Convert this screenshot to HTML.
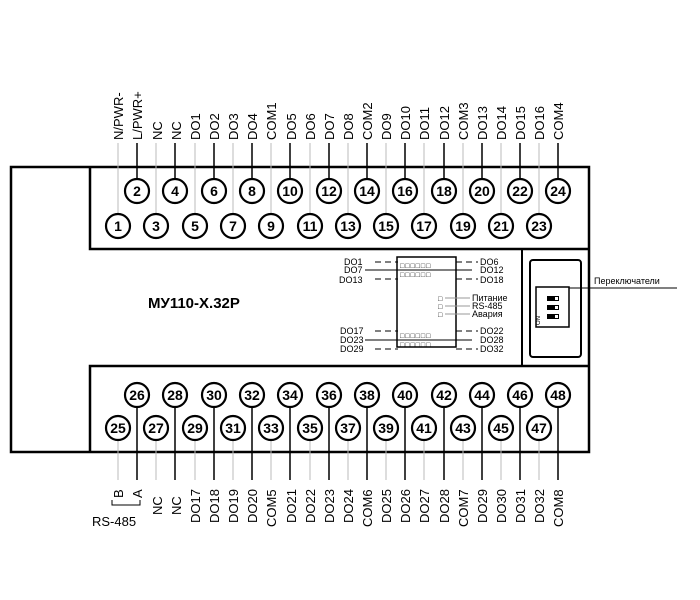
<!DOCTYPE html>
<html><head><meta charset="utf-8"><style>
body{margin:0;background:#fff}
svg{display:block}
text{font-family:"Liberation Sans",sans-serif}
.n{font-size:14px;font-weight:bold;text-anchor:middle}
</style></head><body>
<svg width="700" height="600" viewBox="0 0 700 600" xmlns="http://www.w3.org/2000/svg">
<defs><circle id="c" r="12" fill="#fff" stroke="#000" stroke-width="2.2"/></defs>
<g fill="none" stroke="#000" stroke-width="2.5">
<rect x="11" y="167" width="578" height="285"/>
<path d="M90 167 V249 H589"/>
<path d="M90 452 V366 H589"/>
</g>
<line x1="522" y1="249" x2="522" y2="366" stroke="#000" stroke-width="2"/>
<rect x="530" y="260" width="51" height="97" rx="3" fill="none" stroke="#000" stroke-width="2"/>
<rect x="536" y="287" width="33" height="40" fill="none" stroke="#000" stroke-width="1.5"/>
<g fill="#000"><rect x="547" y="296" width="12" height="5"/><rect x="547" y="305" width="12" height="5"/><rect x="547" y="314" width="12" height="5"/></g>
<g fill="#fff"><rect x="555" y="297" width="3" height="3"/><rect x="555" y="306" width="3" height="3"/><rect x="555" y="315" width="3" height="3"/></g>
<text x="540" y="325" font-size="6" transform="rotate(-90 540 325)">ON</text>
<line x1="569" y1="288" x2="677" y2="288" stroke="#000" stroke-width="1"/>
<text x="594" y="284" font-size="9">Переключатели</text>
<text x="148" y="308" font-size="15" font-weight="bold">МУ110-Х.32Р</text>
<rect x="397" y="257" width="59" height="90" fill="none" stroke="#000" stroke-width="1.5"/>
<g stroke="#000" stroke-width="1">
<line x1="375" y1="262" x2="398" y2="262" stroke-dasharray="6 4"/><line x1="365" y1="270" x2="472" y2="270"/><line x1="375" y1="279" x2="398" y2="279" stroke-dasharray="6 4"/>
<line x1="456" y1="262" x2="478" y2="262" stroke-dasharray="6 4"/><line x1="456" y1="279" x2="478" y2="279" stroke-dasharray="6 4"/>
<line x1="375" y1="331" x2="398" y2="331" stroke-dasharray="6 4"/><line x1="365" y1="340" x2="472" y2="340"/><line x1="375" y1="349" x2="398" y2="349" stroke-dasharray="6 4"/>
<line x1="456" y1="331" x2="478" y2="331" stroke-dasharray="6 4"/><line x1="456" y1="349" x2="478" y2="349" stroke-dasharray="6 4"/>
<line x1="445" y1="298" x2="470" y2="298" stroke="#999"/><line x1="445" y1="306" x2="470" y2="306" stroke="#999"/><line x1="445" y1="314" x2="470" y2="314" stroke="#999"/>
</g>
<g font-size="9" fill="#000">
<text x="344" y="265">DO1</text><text x="344" y="273">DO7</text><text x="339" y="283">DO13</text>
<text x="480" y="265">DO6</text><text x="480" y="273">DO12</text><text x="480" y="283">DO18</text>
<text x="340" y="334">DO17</text><text x="340" y="343">DO23</text><text x="340" y="352">DO29</text>
<text x="480" y="334">DO22</text><text x="480" y="343">DO28</text><text x="480" y="352">DO32</text>
<text x="472" y="301">Питание</text><text x="472" y="309">RS-485</text><text x="472" y="317">Авария</text>
<text x="400" y="268" font-size="7" letter-spacing="1">□□□□□□</text>
<text x="400" y="277" font-size="7" letter-spacing="1">□□□□□□</text>
<text x="400" y="338" font-size="7" letter-spacing="1">□□□□□□</text>
<text x="400" y="347" font-size="7" letter-spacing="1">□□□□□□</text>
<text x="438" y="301" font-size="7">□</text><text x="438" y="309" font-size="7">□</text><text x="438" y="317" font-size="7">□</text>
</g>
<!-- leader lines -->
<g stroke="#bbb" stroke-width="1">
<path d="M118 143V215 M156 143V215 M195 143V215 M233 143V215 M271 143V215 M310 143V215 M348 143V215 M386 143V215 M424 143V215 M463 143V215 M501 143V215 M539 143V215"/>
<path d="M118 416V480 M156 416V480 M195 416V480 M233 416V480 M271 416V480 M310 416V480 M348 416V480 M386 416V480 M424 416V480 M463 416V480 M501 416V480 M539 416V480"/>
</g>
<g stroke="#000" stroke-width="1.5">
<path d="M137 143V180 M175 143V180 M214 143V180 M252 143V180 M290 143V180 M329 143V180 M367 143V180 M405 143V180 M444 143V180 M482 143V180 M520 143V180 M558 143V180"/>
<path d="M137 383V480 M175 383V480 M214 383V480 M252 383V480 M290 383V480 M329 383V480 M367 383V480 M405 383V480 M444 383V480 M482 383V480 M520 383V480 M558 383V480"/>
</g>
<!-- circles -->
<g>
<use href="#c" x="137" y="191"/><use href="#c" x="175" y="191"/><use href="#c" x="214" y="191"/><use href="#c" x="252" y="191"/><use href="#c" x="290" y="191"/><use href="#c" x="329" y="191"/><use href="#c" x="367" y="191"/><use href="#c" x="405" y="191"/><use href="#c" x="444" y="191"/><use href="#c" x="482" y="191"/><use href="#c" x="520" y="191"/><use href="#c" x="558" y="191"/>
<use href="#c" x="118" y="226"/><use href="#c" x="156" y="226"/><use href="#c" x="195" y="226"/><use href="#c" x="233" y="226"/><use href="#c" x="271" y="226"/><use href="#c" x="310" y="226"/><use href="#c" x="348" y="226"/><use href="#c" x="386" y="226"/><use href="#c" x="424" y="226"/><use href="#c" x="463" y="226"/><use href="#c" x="501" y="226"/><use href="#c" x="539" y="226"/>
<use href="#c" x="137" y="395"/><use href="#c" x="175" y="395"/><use href="#c" x="214" y="395"/><use href="#c" x="252" y="395"/><use href="#c" x="290" y="395"/><use href="#c" x="329" y="395"/><use href="#c" x="367" y="395"/><use href="#c" x="405" y="395"/><use href="#c" x="444" y="395"/><use href="#c" x="482" y="395"/><use href="#c" x="520" y="395"/><use href="#c" x="558" y="395"/>
<use href="#c" x="118" y="428"/><use href="#c" x="156" y="428"/><use href="#c" x="195" y="428"/><use href="#c" x="233" y="428"/><use href="#c" x="271" y="428"/><use href="#c" x="310" y="428"/><use href="#c" x="348" y="428"/><use href="#c" x="386" y="428"/><use href="#c" x="424" y="428"/><use href="#c" x="463" y="428"/><use href="#c" x="501" y="428"/><use href="#c" x="539" y="428"/>
</g>
<g class="n">
<text class="n" x="137" y="196">2</text><text class="n" x="175" y="196">4</text><text class="n" x="214" y="196">6</text><text class="n" x="252" y="196">8</text><text class="n" x="290" y="196">10</text><text class="n" x="329" y="196">12</text><text class="n" x="367" y="196">14</text><text class="n" x="405" y="196">16</text><text class="n" x="444" y="196">18</text><text class="n" x="482" y="196">20</text><text class="n" x="520" y="196">22</text><text class="n" x="558" y="196">24</text>
<text class="n" x="118" y="231">1</text><text class="n" x="156" y="231">3</text><text class="n" x="195" y="231">5</text><text class="n" x="233" y="231">7</text><text class="n" x="271" y="231">9</text><text class="n" x="310" y="231">11</text><text class="n" x="348" y="231">13</text><text class="n" x="386" y="231">15</text><text class="n" x="424" y="231">17</text><text class="n" x="463" y="231">19</text><text class="n" x="501" y="231">21</text><text class="n" x="539" y="231">23</text>
<text class="n" x="137" y="400">26</text><text class="n" x="175" y="400">28</text><text class="n" x="214" y="400">30</text><text class="n" x="252" y="400">32</text><text class="n" x="290" y="400">34</text><text class="n" x="329" y="400">36</text><text class="n" x="367" y="400">38</text><text class="n" x="405" y="400">40</text><text class="n" x="444" y="400">42</text><text class="n" x="482" y="400">44</text><text class="n" x="520" y="400">46</text><text class="n" x="558" y="400">48</text>
<text class="n" x="118" y="433">25</text><text class="n" x="156" y="433">27</text><text class="n" x="195" y="433">29</text><text class="n" x="233" y="433">31</text><text class="n" x="271" y="433">33</text><text class="n" x="310" y="433">35</text><text class="n" x="348" y="433">37</text><text class="n" x="386" y="433">39</text><text class="n" x="424" y="433">41</text><text class="n" x="463" y="433">43</text><text class="n" x="501" y="433">45</text><text class="n" x="539" y="433">47</text>
</g>
<g font-size="13" fill="#000">
<text transform="translate(123,140) rotate(-90)">N/PWR-</text>
<text transform="translate(142,140) rotate(-90)">L/PWR+</text>
<text transform="translate(162,140) rotate(-90)">NC</text>
<text transform="translate(181,140) rotate(-90)">NC</text>
<text transform="translate(200,140) rotate(-90)">DO1</text>
<text transform="translate(219,140) rotate(-90)">DO2</text>
<text transform="translate(238,140) rotate(-90)">DO3</text>
<text transform="translate(257,140) rotate(-90)">DO4</text>
<text transform="translate(276,140) rotate(-90)">COM1</text>
<text transform="translate(296,140) rotate(-90)">DO5</text>
<text transform="translate(315,140) rotate(-90)">DO6</text>
<text transform="translate(334,140) rotate(-90)">DO7</text>
<text transform="translate(353,140) rotate(-90)">DO8</text>
<text transform="translate(372,140) rotate(-90)">COM2</text>
<text transform="translate(391,140) rotate(-90)">DO9</text>
<text transform="translate(410,140) rotate(-90)">DO10</text>
<text transform="translate(429,140) rotate(-90)">DO11</text>
<text transform="translate(449,140) rotate(-90)">DO12</text>
<text transform="translate(468,140) rotate(-90)">COM3</text>
<text transform="translate(487,140) rotate(-90)">DO13</text>
<text transform="translate(506,140) rotate(-90)">DO14</text>
<text transform="translate(525,140) rotate(-90)">DO15</text>
<text transform="translate(544,140) rotate(-90)">DO16</text>
<text transform="translate(563,140) rotate(-90)">COM4</text>
<text transform="translate(123,498) rotate(-90)">B</text>
<text transform="translate(142,498) rotate(-90)">A</text>
<text transform="translate(162,515) rotate(-90)">NC</text>
<text transform="translate(181,515) rotate(-90)">NC</text>
<text transform="translate(200,523) rotate(-90)">DO17</text>
<text transform="translate(219,523) rotate(-90)">DO18</text>
<text transform="translate(238,523) rotate(-90)">DO19</text>
<text transform="translate(257,523) rotate(-90)">DO20</text>
<text transform="translate(276,527) rotate(-90)">COM5</text>
<text transform="translate(296,523) rotate(-90)">DO21</text>
<text transform="translate(315,523) rotate(-90)">DO22</text>
<text transform="translate(334,523) rotate(-90)">DO23</text>
<text transform="translate(353,523) rotate(-90)">DO24</text>
<text transform="translate(372,527) rotate(-90)">COM6</text>
<text transform="translate(391,523) rotate(-90)">DO25</text>
<text transform="translate(410,523) rotate(-90)">DO26</text>
<text transform="translate(429,523) rotate(-90)">DO27</text>
<text transform="translate(449,523) rotate(-90)">DO28</text>
<text transform="translate(468,527) rotate(-90)">COM7</text>
<text transform="translate(487,523) rotate(-90)">DO29</text>
<text transform="translate(506,523) rotate(-90)">DO30</text>
<text transform="translate(525,523) rotate(-90)">DO31</text>
<text transform="translate(544,523) rotate(-90)">DO32</text>
<text transform="translate(563,527) rotate(-90)">COM8</text>
<text x="92" y="526">RS-485</text>
</g>
<path d="M112 500 V505 H140 V500" fill="none" stroke="#000" stroke-width="1"/>
</svg>
</body></html>
